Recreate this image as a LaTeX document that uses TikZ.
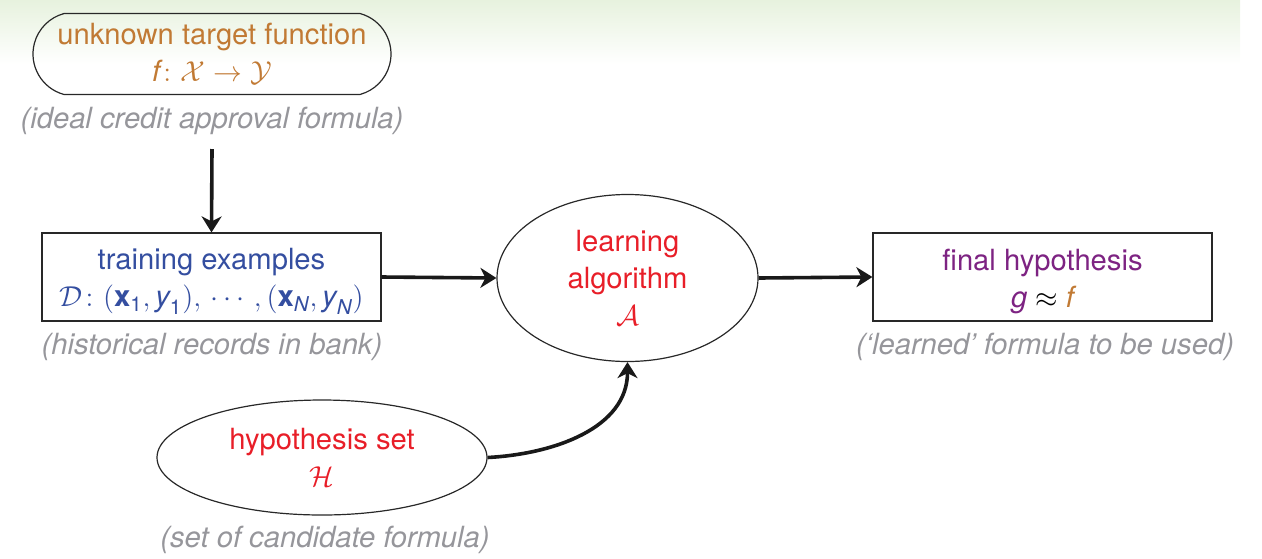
\documentclass[tikz,border=0pt]{standalone}
\usepackage{amsmath}
\usepackage{fontspec}
\setmainfont{TeX Gyre Heros}
\usetikzlibrary{shapes.geometric,shapes.misc,arrows.meta}
\definecolor{tgt}{RGB}{193,122,52}
\definecolor{dblue}{RGB}{52,78,160}
\definecolor{lred}{RGB}{232,30,40}
\definecolor{hpurple}{RGB}{125,35,130}
\definecolor{capgray}{RGB}{150,150,155}
\definecolor{hdrgreen}{RGB}{231,242,222}
\definecolor{edge}{RGB}{40,40,40}
\begin{document}
\begin{tikzpicture}[x=0.5pt,y=-0.5pt,
  every node/.style={font=\fontsize{14.6pt}{18.5pt}\selectfont, align=center, inner sep=0pt},
  boxnode/.style={draw=edge, line width=0.6pt, rectangle, minimum width=169.5pt, minimum height=44pt},
  ellnode/.style={draw=edge, line width=0.6pt, ellipse},
  capnode/.style={text=capgray, font=\fontsize{14.6pt}{18.5pt}\selectfont\itshape},
  flow/.style={draw=black!90, line width=1.8pt, -{Stealth[length=8pt,width=10pt,inset=2.5pt]}}]
\useasboundingbox (0,0) rectangle (1262,558);
\shade[top color=hdrgreen, bottom color=white] (0,0) rectangle (1240,64);

\node[draw=edge, line width=0.6pt, rounded rectangle, rounded rectangle arc length=150,
      minimum width=179pt, minimum height=40.5pt, text=tgt] (target) at (212,54)
  {unknown target function\\ $\text{\itshape f}\colon \mathcal{X}\to\mathcal{Y}$};
\node[capnode] (captarget) at (212,121) {(ideal credit approval formula)};
\coordinate (tstart) at (212,149);

\node[boxnode, text=dblue] (train) at (211.5,277)
  {\rule{0pt}{15pt}training examples\\ $\mathcal{D}\colon(\textbf{x}_{\text{1}}, \text{\itshape y}_{\text{1}}),\,\cdots\,,(\textbf{x}_{\text{\itshape N}}, \text{\itshape y}_{\text{\itshape N}})$};
\node[capnode] (captrain) at (212,347) {(historical records in bank)};

\node[ellnode, minimum width=130.5pt, minimum height=83.5pt, text=lred] (learn) at (627.5,278)
  {learning\\ algorithm\\ $\mathcal{A}$};

\node[boxnode] (final) at (1042.5,277)
  {\rule{0pt}{15pt}\textcolor{hpurple}{final hypothesis}\\ $\textcolor{hpurple}{\text{\itshape g}}\approx\textcolor{tgt}{\text{\itshape f}}$};
\node[capnode] (capfinal) at (1045,347) {(`learned' formula to be used)};

\node[ellnode, minimum width=165pt, minimum height=57.5pt, text=lred] (hyp) at (322,457.5)
  {hypothesis set\\ $\mathcal{H}$};
\node[capnode] (caphyp) at (325,540) {(set of candidate formula)};

\draw[flow] (tstart) -- (train.north);
\draw[flow] (train.east) -- (learn.west);
\draw[flow] (learn.east) -- (final.west);
\draw[flow] (hyp.east) to[out=3,in=-90] (learn.south);
\end{tikzpicture}
\end{document}
